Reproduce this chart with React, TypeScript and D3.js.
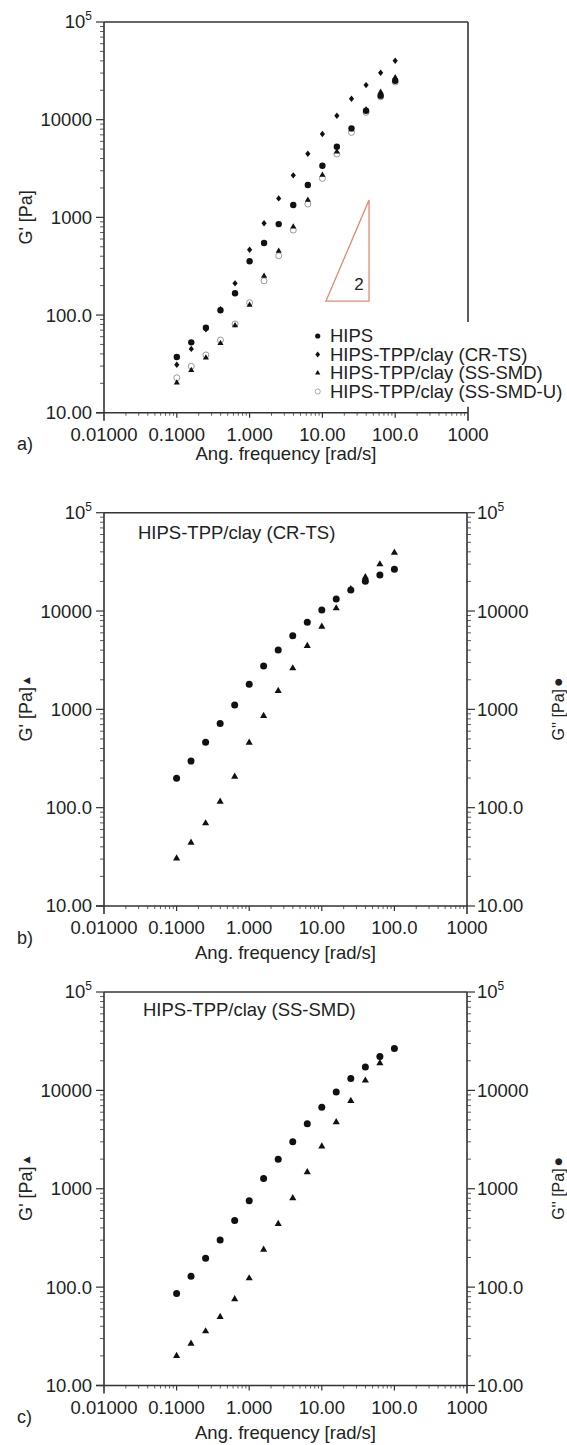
import React from 'react';
import * as d3 from 'd3';

// ---------------- data ----------------
const FREQ = [0.1, 0.158, 0.251, 0.398, 0.631, 1, 1.58, 2.51, 3.98, 6.31, 10, 15.8, 25.1, 39.8, 63.1, 100];

// panel a : G' of four materials
const A_HIPS = [37.2, 52.5, 74, 112, 167, 355, 546, 853, 1337, 2143, 3375, 5290, 8150, 12330, 17560, 25000];
const A_CRTS = [31, 45, 71.5, 115, 211, 466, 869, 1564, 2693, 4477, 7130, 10970, 16370, 22600, 30200, 40100];
const A_SSSMD = [20.3, 27.2, 36.6, 51.3, 78, 127, 251, 452, 800, 1503, 2710, 4700, 7940, 12740, 19200, 27050];
const A_SSSMDU = [22.8, 29.9, 39, 55.5, 81, 134, 224, 404, 741, 1368, 2505, 4450, 7400, 11880, 17140, 24270];

// panel b : HIPS-TPP/clay (CR-TS)
const B_GPP = [199, 298, 462, 716, 1109, 1800, 2762, 4018, 5620, 7690, 10260, 13270, 16400, 20100, 23300, 26600];
const B_GP = [30.5, 44, 69.4, 115, 207, 458, 857, 1538, 2618, 4420, 6930, 10660, 16700, 22100, 29900, 39300];

// panel c : HIPS-TPP/clay (SS-SMD)
const C_GPP = [86.3, 129, 196, 301, 475, 754, 1270, 2000, 3000, 4570, 6740, 9600, 13200, 17330, 22100, 26600];
const C_GP = [20, 26.6, 35.6, 49.8, 75.6, 123, 240, 440, 802, 1476, 2690, 4750, 7820, 12590, 18900];

const X_TICKS = [0.01, 0.1, 1, 10, 100, 1000];
const X_TICK_LABELS = ['0.01000', '0.1000', '1.000', '10.00', '100.0', '1000'];
const Y_TICKS = [10, 100, 1000, 10000, 100000];
const Y_TICK_LABELS = ['10.00', '100.0', '1000', '10000', '10^5'];
const LEGEND_LABELS = ['HIPS', 'HIPS-TPP/clay (CR-TS)', 'HIPS-TPP/clay (SS-SMD)', 'HIPS-TPP/clay (SS-SMD-U)'];
const SLOPE_X = [11.2, 43.7, 43.7];
const SLOPE_Y = [139, 139, 1503];
const SLOPE_LABEL = '2';
const SLOPE_LABEL_POS = [31.8, 180];

const FONT = 'Liberation Sans, Arial, Helvetica, sans-serif';
const AX = '#333';
const TXT = '#222';

type Box = { L: number; R: number; T: number; B: number };

function makeScales(b: Box) {
  const x = d3.scaleLog().domain([0.01, 1000]).range([b.L, b.R]);
  const y = d3.scaleLog().domain([10, 1e5]).range([b.B, b.T]);
  return { x, y };
}

const xMinor: number[] = [];
[0.01, 0.1, 1, 10, 100].forEach((d) => { for (let k = 2; k <= 9; k++) xMinor.push(d * k); });
const yMinor: number[] = [];
[10, 100, 1000, 10000].forEach((d) => { for (let k = 2; k <= 9; k++) yMinor.push(d * k); });

function TickLabel({ label, x, y, anchor }: { label: string; x: number; y: number; anchor: string }) {
  if (label.includes('^')) {
    const [base, exp] = label.split('^');
    return (
      <text x={x} y={y} dy="0.35em" textAnchor={anchor} fontSize={18.5} fill={TXT} fontFamily={FONT}>
        {base}
        <tspan fontSize={12} dy={-8}>{exp}</tspan>
      </text>
    );
  }
  return (
    <text x={x} y={y} dy="0.35em" textAnchor={anchor} fontSize={18.5} fill={TXT} fontFamily={FONT}>
      {label}
    </text>
  );
}

function Axes({ box, rightAxis, rightBorderEnd, tag }: { box: Box; rightAxis: boolean; rightBorderEnd?: number; tag: string }) {
  const { x, y } = makeScales(box);
  const { L, R, T, B } = box;
  return (
    <g>
      {/* frame */}
      <line x1={L} x2={L} y1={T} y2={B + 8} stroke={AX} strokeWidth={1.6} />
      <line x1={L - 8} x2={R} y1={B} y2={B} stroke={AX} strokeWidth={1.6} />
      <line x1={L} x2={R} y1={T} y2={T} stroke={AX} strokeWidth={1.6} />
      {rightAxis ? (
        <line x1={R} x2={R} y1={T} y2={B + 8} stroke={AX} strokeWidth={1.6} />
      ) : (
        <g>
          <line x1={R} x2={R} y1={T} y2={rightBorderEnd} stroke={AX} strokeWidth={1.6} />
          <line x1={R} x2={R} y1={B - 6} y2={B + 8} stroke={AX} strokeWidth={1.6} />
        </g>
      )}
      {/* y ticks left */}
      {Y_TICKS.map((v) => (
        <line key={'yl' + v} x1={L - 8} x2={L} y1={y(v)} y2={y(v)} stroke={AX} strokeWidth={1.2} />
      ))}
      {yMinor.map((v) => (
        <line key={'ylm' + v} x1={L - 4} x2={L} y1={y(v)} y2={y(v)} stroke={AX} strokeWidth={0.8} />
      ))}
      {Y_TICKS.map((v, i) => (
        <TickLabel key={'yll' + v} label={Y_TICK_LABELS[i]} x={L - 12} y={y(v)} anchor="end" />
      ))}
      {rightAxis && (
        <g>
          {Y_TICKS.map((v) => (
            <line key={'yr' + v} x1={R} x2={R + 8} y1={y(v)} y2={y(v)} stroke={AX} strokeWidth={1.2} />
          ))}
          {yMinor.map((v) => (
            <line key={'yrm' + v} x1={R} x2={R + 4} y1={y(v)} y2={y(v)} stroke={AX} strokeWidth={0.8} />
          ))}
          {Y_TICKS.map((v, i) => (
            <TickLabel key={'yrl' + v} label={Y_TICK_LABELS[i]} x={R + 10} y={y(v)} anchor="start" />
          ))}
        </g>
      )}
      {/* x ticks */}
      {X_TICKS.slice(1, -1).map((v) => (
        <line key={'xt' + v} x1={x(v)} x2={x(v)} y1={B} y2={B + 5} stroke={AX} strokeWidth={1.2} />
      ))}
      {xMinor.map((v) => (
        <line key={'xm' + v} x1={x(v)} x2={x(v)} y1={B} y2={B + 3} stroke={AX} strokeWidth={0.8} />
      ))}
      {X_TICKS.map((v, i) => (
        <text key={'xl' + v} x={x(v)} y={B + 28} textAnchor="middle" fontSize={18.5} fill={TXT} fontFamily={FONT}>
          {X_TICK_LABELS[i]}
        </text>
      ))}
      <text x={(L + R) / 2} y={B + (tag === 'a)' ? 47 : 53)} textAnchor="middle" fontSize={18.5} fill={TXT} fontFamily={FONT}>
        Ang. frequency [rad/s]
      </text>
      <text x={17} y={B + 37.5} fontSize={18} fill={TXT} fontFamily={FONT}>
        {tag}
      </text>
    </g>
  );
}

const circlePath = (r: number) => d3.symbol().type(d3.symbolCircle).size(Math.PI * r * r)();
const triPath = (size: number) => d3.symbol().type(d3.symbolTriangle).size(size)();
const diamondPath = (w: number, h: number) => `M0,${-h}L${w},0L0,${h}L${-w},0Z`;

function Markers({ xs, ys, box, path, fill, stroke }: { xs: number[]; ys: number[]; box: Box; path: string; fill: string; stroke?: string }) {
  const { x, y } = makeScales(box);
  return (
    <g>
      {ys.map((v, i) => (
        <path key={i} d={path} transform={`translate(${x(xs[i])},${y(v)})`} fill={fill} stroke={stroke || 'none'} strokeWidth={stroke ? 1 : 0} />
      ))}
    </g>
  );
}

const BOX_A: Box = { L: 104, R: 468, T: 22, B: 412.7 };
const BOX_B: Box = { L: 104, R: 467, T: 512.7, B: 906 };
const BOX_C: Box = { L: 104, R: 467, T: 992, B: 1385.5 };

export default function App() {
  const sa = makeScales(BOX_A);
  const slopeLine = d3
    .line<number>()
    .x((_, i) => sa.x(SLOPE_X[i]))
    .y((v) => sa.y(v));
  const slopeD = slopeLine(SLOPE_Y) + 'Z';

  const legendY = [336, 354.5, 373, 391.5];
  const legendPaths = [circlePath(2.6), diamondPath(2.4, 3), triPath(12), circlePath(2.6)];
  const legendFill = ['#111', '#111', '#111', 'none'];
  const legendStroke = [undefined, undefined, undefined, '#aaa'];

  const yLabel = (box: Box, text: string, sym: string, right = false) => {
    const cy = (box.T + box.B) / 2;
    const cx = right ? 564 : 32;
    return (
      <text transform={`translate(${cx},${cy}) rotate(-90)`} textAnchor="middle" fontSize={right ? 16 : 18} fill={TXT} fontFamily={FONT}>
        {text}
        {sym && (
          <tspan fontSize={9} fontFamily="DejaVu Sans" dy={-3}>{' ' + sym}</tspan>
        )}
      </text>
    );
  };

  return (
    <svg width={567} height={1445} style={{ position: 'absolute', left: 0, top: 0, background: '#fff' }}>
      <rect width={567} height={1445} fill="#fff" />

      {/* ---------- panel a ---------- */}
      <Axes box={BOX_A} rightAxis={false} rightBorderEnd={322} tag="a)" />
      {yLabel(BOX_A, "G' [Pa]", '')}
      <path d={slopeD} fill="none" stroke="#e8866c" strokeWidth={1.3} />
      <text x={sa.x(SLOPE_LABEL_POS[0])} y={sa.y(SLOPE_LABEL_POS[1])} textAnchor="middle" fontSize={17} fill={TXT} fontFamily={FONT}>
        {SLOPE_LABEL}
      </text>
      <Markers xs={FREQ} ys={A_SSSMDU} box={BOX_A} path={circlePath(3)} fill="#fff" stroke="#999" />
      <Markers xs={FREQ} ys={A_SSSMD} box={BOX_A} path={triPath(16)} fill="#111" />
      <Markers xs={FREQ} ys={A_HIPS} box={BOX_A} path={circlePath(3.2)} fill="#111" />
      <Markers xs={FREQ} ys={A_CRTS} box={BOX_A} path={diamondPath(2.6, 3.2)} fill="#111" />
      {LEGEND_LABELS.map((t, i) => (
        <g key={t}>
          <path d={legendPaths[i]} transform={`translate(317.7,${legendY[i]})`} fill={legendFill[i]} stroke={legendStroke[i] || 'none'} />
          <text x={330} y={legendY[i]} dy="0.35em" fontSize={18.5} fill={TXT} fontFamily={FONT}>
            {t}
          </text>
        </g>
      ))}

      {/* ---------- panel b ---------- */}
      <Axes box={BOX_B} rightAxis={true} tag="b)" />
      {yLabel(BOX_B, "G' [Pa]", '▲')}
      {yLabel(BOX_B, "G'' [Pa]", '●', true)}
      <text x={138} y={BOX_B.T + 26} fontSize={18.5} fill={TXT} fontFamily={FONT}>
        HIPS-TPP/clay (CR-TS)
      </text>
      <Markers xs={FREQ} ys={B_GP} box={BOX_B} path={triPath(22)} fill="#111" />
      <Markers xs={FREQ} ys={B_GPP} box={BOX_B} path={circlePath(3.5)} fill="#111" />

      {/* ---------- panel c ---------- */}
      <Axes box={BOX_C} rightAxis={true} tag="c)" />
      {yLabel(BOX_C, "G' [Pa]", '▲')}
      {yLabel(BOX_C, "G'' [Pa]", '●', true)}
      <text x={143} y={BOX_C.T + 24} fontSize={18.5} fill={TXT} fontFamily={FONT}>
        HIPS-TPP/clay (SS-SMD)
      </text>
      <Markers xs={FREQ} ys={C_GP} box={BOX_C} path={triPath(22)} fill="#111" />
      <Markers xs={FREQ} ys={C_GPP} box={BOX_C} path={circlePath(3.5)} fill="#111" />
    </svg>
  );
}
